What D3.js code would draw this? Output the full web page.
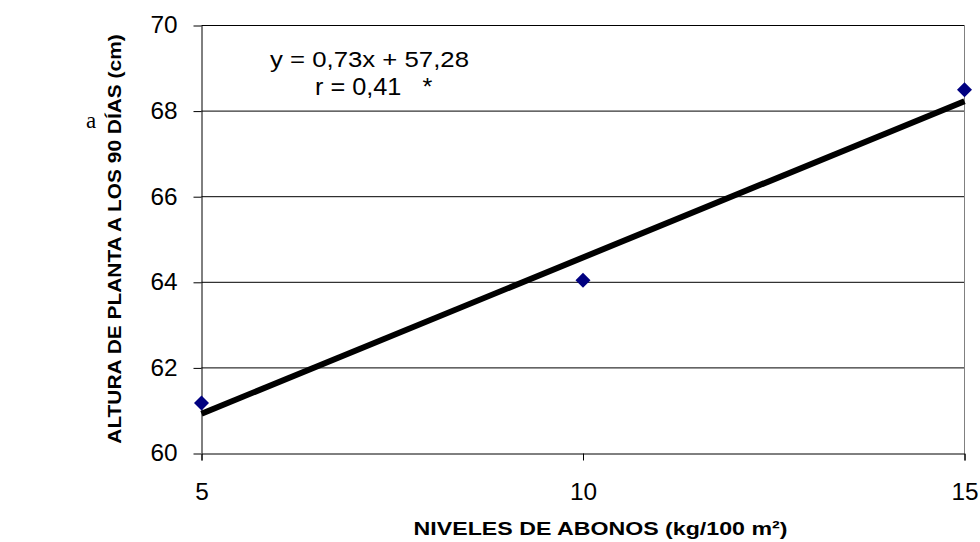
<!DOCTYPE html>
<html>
<head>
<meta charset="utf-8">
<script src="https://cdn.jsdelivr.net/npm/d3@7/dist/d3.min.js"></script>
<style>
    body { margin: 0; background: #fff; }
    svg { display: block; }
</style>
</head>
<body>
<div id="chart"></div>
<script>
// data
var niveles = [5, 10, 15];
var altura = [61.18, 64.05, 68.5];
var xTicks = [5, 10, 15];
var yTicks = [60, 62, 64, 66, 68, 70];
var slope = 0.73;
var intercept = 57.28;
var eqLabels = ['y = 0,73x + 57,28', 'r = 0,41   *'];

var width = 980,
    height = 542;
var margin = {top: 25.5, right: 15.5, bottom: 88.5, left: 201.5};
var sans = 'Liberation Sans, Arial, sans-serif';

var svg = d3.select('#chart').append('svg')
    .attr('width', width)
    .attr('height', height);

var x = d3.scaleLinear().domain([5, 15]).range([margin.left, width - margin.right]);
var y = d3.scaleLinear().domain([60, 70]).range([height - margin.bottom, margin.top]);

// horizontal gridlines
svg.append('g')
    .selectAll('line')
    .data(yTicks.filter(function (d) { return d > 60; }))
    .enter().append('line')
    .attr('x1', margin.left)
    .attr('x2', width - margin.right)
    .attr('y1', function (d) { return y(d); })
    .attr('y2', function (d) { return y(d); })
    .attr('stroke', '#000')
    .attr('stroke-width', 1);

// right border
svg.append('line')
    .attr('x1', width - margin.right).attr('x2', width - margin.right)
    .attr('y1', margin.top).attr('y2', height - margin.bottom)
    .attr('stroke', '#808080');

var xAxis = svg.append('g')
    .attr('transform', 'translate(0,' + (height - margin.bottom) + ')')
    .call(d3.axisBottom(x).tickValues(xTicks).tickSize(7).tickPadding(23).tickFormat(d3.format('d')));

var yAxis = svg.append('g')
    .attr('transform', 'translate(' + margin.left + ',0)')
    .call(d3.axisLeft(y).tickValues(yTicks).tickSize(8).tickPadding(16).tickFormat(d3.format('d')));

[xAxis, yAxis].forEach(function (a) {
    a.select('.domain').attr('stroke', '#000');
    a.selectAll('.tick line').attr('stroke', '#000');
    a.selectAll('.tick text')
        .attr('fill', '#000')
        .style('font-family', sans)
        .style('font-size', '23px');
});
// stretch digits a little sideways, like the original
xAxis.selectAll('.tick text').attr('transform', 'scale(1.06,1)');
yAxis.selectAll('.tick text').attr('x', -24 / 1.06).attr('transform', 'scale(1.06,1)');
yAxis.select('.domain').attr('d', 'M0.5,' + margin.top + 'V' + (height - margin.bottom));

// regression line
svg.append('line')
    .attr('x1', x(5))
    .attr('y1', y(slope * 5 + intercept))
    .attr('x2', x(15))
    .attr('y2', y(slope * 15 + intercept))
    .attr('stroke', '#000')
    .attr('stroke-width', 6);

// points
svg.append('g')
    .selectAll('path')
    .data(niveles)
    .enter().append('path')
    .attr('d', d3.symbol().type(d3.symbolDiamond2).size(143))
    .attr('transform', function (d, i) { return 'translate(' + x(d) + ',' + y(altura[i]) + ')'; })
    .attr('fill', '#000080');

// equation
svg.append('text')
    .attr('transform', 'translate(270,67) scale(1.12,1)')
    .style('font-family', sans)
    .style('font-size', '23px')
    .text(eqLabels[0]);
svg.append('text')
    .attr('transform', 'translate(315,95) scale(1.1,1)')
    .style('font-family', sans)
    .style('font-size', '23px')
    .style('white-space', 'pre')
    .text(eqLabels[1]);

// panel letter
svg.append('text')
    .attr('x', 86)
    .attr('y', 128)
    .style('font-family', 'Liberation Serif, Times New Roman, serif')
    .style('font-size', '23px')
    .text('a');

// axis titles
svg.append('text')
    .attr('transform', 'translate(600.5,535) scale(1.22,1)')
    .attr('text-anchor', 'middle')
    .style('font-family', sans)
    .style('font-size', '19px')
    .style('font-weight', 'bold')
    .text('NIVELES DE ABONOS (kg/100 m²)');

svg.append('text')
    .attr('transform', 'translate(121,239) rotate(-90) scale(1.1,1)')
    .attr('text-anchor', 'middle')
    .style('font-family', sans)
    .style('font-size', '19px')
    .style('font-weight', 'bold')
    .text('ALTURA DE PLANTA A LOS 90 DÍAS (cm)');
</script>
</body>
</html>
